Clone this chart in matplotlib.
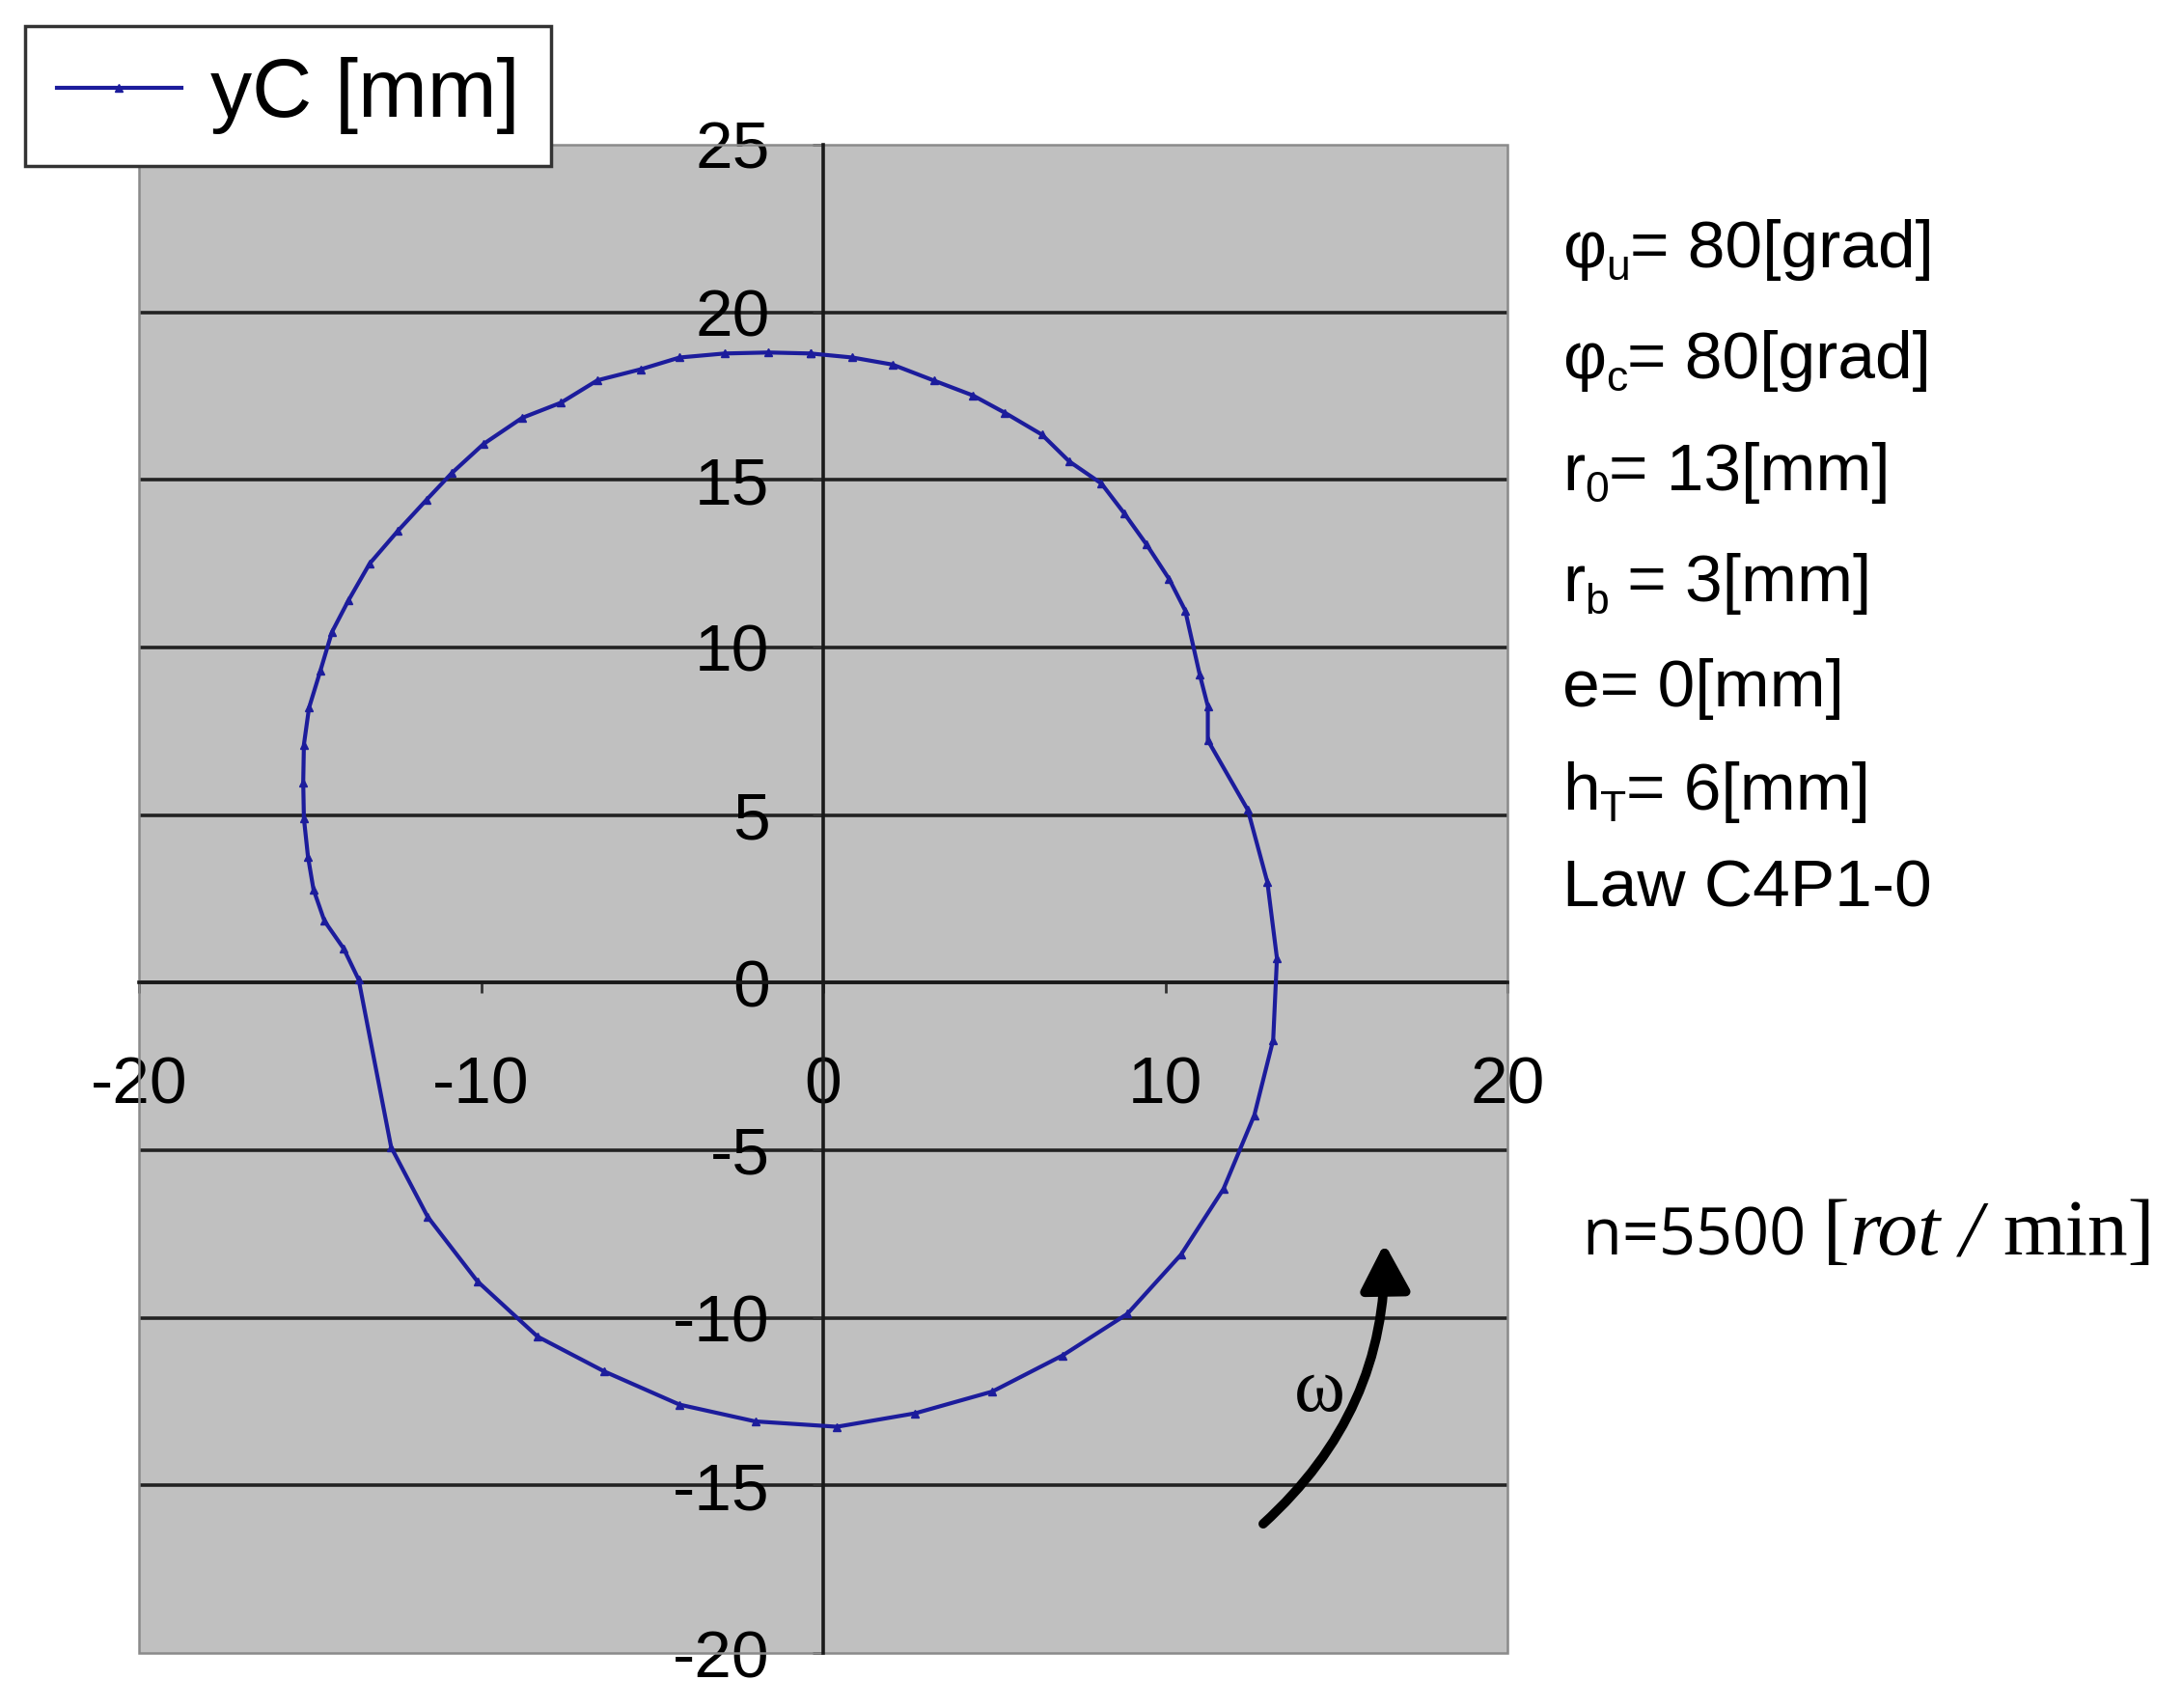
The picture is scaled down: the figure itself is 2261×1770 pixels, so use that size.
import matplotlib
matplotlib.use('Agg')
import matplotlib.pyplot as plt
from matplotlib.patches import Rectangle, FancyArrowPatch

# cam profile points (x, y) in mm
x_mm = [-0.37, 0.85, 2.02, 3.24, 4.37, 5.31, 6.39, 7.19, 8.13, 8.79, 9.45, 10.11,
        10.58, 11.0, 11.24, 11.24, 12.41, 12.98, 13.26, 13.15, 12.6, 11.7, 10.46,
        8.89, 7.0, 4.94, 2.68, 0.4, -1.99, -4.2, -6.4, -8.35, -10.11, -11.56,
        -12.63, -13.58, -14.02, -14.58, -14.9, -15.06, -15.18, -15.2, -15.18,
        -15.03, -14.7, -14.36, -13.88, -13.26, -12.44, -11.6, -10.86, -9.93,
        -8.8, -7.67, -6.6, -5.33, -4.2, -2.88, -1.6, -0.37]
y_mm = [18.77, 18.65, 18.44, 17.96, 17.52, 17.0, 16.35, 15.55, 14.89, 14.01, 13.07,
        12.04, 11.1, 9.2, 8.25, 7.23, 5.15, 3.0, 0.73, -1.71, -3.95, -6.15, -8.11,
        -9.88, -11.12, -12.2, -12.85, -13.25, -13.09, -12.59, -11.6, -10.56, -8.91,
        -6.99, -4.91, 0.09, 1.02, 1.84, 2.78, 3.75, 4.9, 5.98, 7.1, 8.2, 9.3,
        10.46, 11.4, 12.5, 13.47, 14.4, 15.2, 16.07, 16.85, 17.3, 17.97, 18.3,
        18.65, 18.77, 18.8, 18.77]

x_ticks = [-20, -10, 0, 10, 20]
y_ticks = [-20, -15, -10, -5, 0, 5, 10, 15, 20, 25]
grid_y = [-15, -10, -5, 0, 5, 10, 15, 20]

param_main = ["φ", "φ", "r", "r", "e= 0[mm]", "h", "Law C4P1-0"]
param_sub = ["u", "c", "0", "b", "", "T", ""]
param_rest = ["= 80[grad]", "= 80[grad]", "= 13[mm]", " = 3[mm]", "", "= 6[mm]", ""]
param_y = [0.8435, 0.7785, 0.713, 0.648, 0.5865, 0.526, 0.469]

plt.rcParams['font.family'] = ['Liberation Sans', 'DejaVu Sans']
plt.rcParams['axes.unicode_minus'] = False

fig = plt.figure(figsize=(22.61, 17.70), dpi=100)
ax = fig.add_axes([0.0637, 0.0322, 0.6272, 0.8831])
ax.set_xlim(-20, 20)
ax.set_ylim(-20, 25)
ax.set_facecolor('#c0c0c0')

for gy in grid_y:
    ax.axhline(gy, color='#222222', lw=2.6, zorder=1)

ax.spines['left'].set_position(('data', 0))
ax.spines['bottom'].set_position(('data', 0))
for s in ['left', 'bottom']:
    ax.spines[s].set_color('#1a1a1a')
    ax.spines[s].set_linewidth(2.6)
for s in ['top', 'right']:
    ax.spines[s].set_visible(False)
ax.add_patch(Rectangle((0, 0), 1, 1, transform=ax.transAxes, fill=False,
                       ec='#8a8a8a', lw=1.8, zorder=2, clip_on=False))

ax.set_xticks(x_ticks)
ax.set_yticks(y_ticks)
ax.tick_params(axis='both', direction='out', length=8, width=2,
               color='#333333', labelsize=50)
ax.tick_params(axis='x', pad=46)
ax.tick_params(axis='y', pad=32)

ax.plot(x_mm, y_mm, color='#1c1c9c', lw=3.0, marker='^', ms=6,
        label='yC [mm]', zorder=5)

leg = ax.legend(loc='upper left', bbox_to_anchor=(0.0115, 0.985),
                bbox_transform=fig.transFigure, fontsize=62, frameon=True,
                fancybox=False, edgecolor='#333333', framealpha=1,
                borderpad=0.38, handlelength=1.5, handletextpad=0.35,
                numpoints=1, borderaxespad=0)
leg.get_frame().set_linewidth(2.5)
leg.set_zorder(10)

# parameter block on the right
fs = 50
for main, sub, rest, y in zip(param_main, param_sub, param_rest, param_y):
    prev = fig.text(0.716, y, main, fontsize=fs, va='baseline')
    if sub:
        prev = ax.annotate(sub, xy=(1, y), xycoords=(prev, 'figure fraction'),
                           xytext=(0, -9), textcoords='offset points',
                           fontsize=32, va='baseline')
    if rest:
        ax.annotate(rest, xy=(1, y), xycoords=(prev, 'figure fraction'),
                    fontsize=fs, va='baseline')

# speed label
ny = 0.2655
t = fig.text(0.7253, ny, "n=5500 ", fontsize=48, family='Open Sans', va='baseline')
parts = [("[", 'normal'), ("rot", 'italic'), (" / ", 'italic'), ("min]", 'normal')]
for s, st in parts:
    t = ax.annotate(s, xy=(1, ny), xycoords=(t, 'figure fraction'), fontsize=60,
                    family='Liberation Serif', style=st, va='baseline')

# rotation arrow
ax.add_patch(FancyArrowPatch((12.8, -16.2), (16.4, -7.7),
                             connectionstyle='arc3,rad=0.23',
                             arrowstyle='-|>,head_length=0.32,head_width=0.17',
                             mutation_scale=90, lw=7, color='black', zorder=6))
ax.text(14.5, -12.2, 'ω', family=['Liberation Serif', 'DejaVu Serif'], fontsize=58,
        ha='center', va='center', zorder=6)

fig.savefig('out.png', dpi=100)
